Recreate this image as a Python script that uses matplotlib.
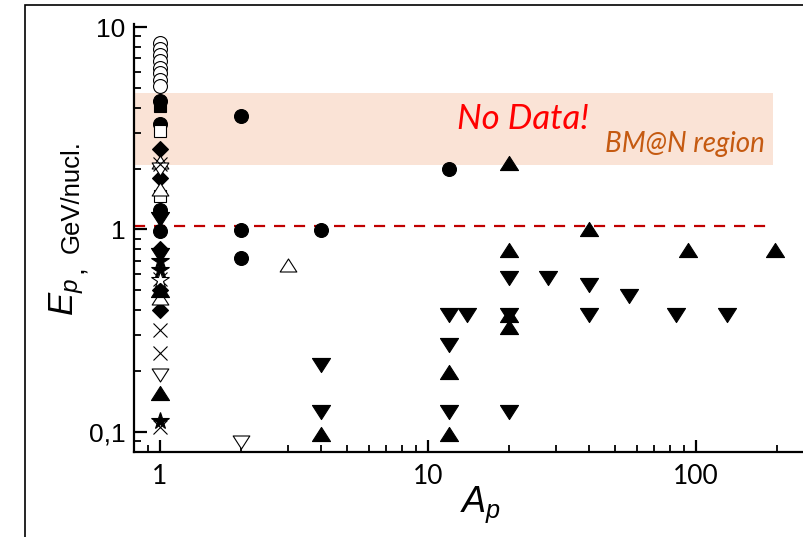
import matplotlib
matplotlib.use("Agg")
import matplotlib.pyplot as plt
import numpy as np
from matplotlib.patches import Rectangle
from matplotlib.path import Path
from matplotlib.ticker import FixedLocator, NullFormatter, LogLocator

plt.rcParams['mathtext.fontset'] = 'custom'
plt.rcParams['mathtext.it'] = 'Liberation Sans:italic'
plt.rcParams['mathtext.rm'] = 'Liberation Sans'

# data: projectile mass number A_p and energy E_p (GeV/nucl.)
open_circle_A = [1, 1, 1, 1, 1, 1, 1, 1]
open_circle_E = [8.3, 7.8, 7.3, 6.8, 6.3, 5.9, 5.5, 5.1]

filled_circle_A = [1, 1, 1, 1, 2, 2, 2, 4, 12]
filled_circle_E = [4.3, 3.3, 1.25, 0.98, 3.63, 0.99, 0.72, 0.99, 2.0]

filled_square_A = [1]
filled_square_E = [4.05]
open_square_A = [1, 1]
open_square_E = [3.05, 1.46]

filled_diamond_A = [1, 1, 1, 1, 1, 1]
filled_diamond_E = [2.5, 1.8, 1.2, 0.8, 0.5, 0.4]

open_up_A = [1, 1, 1, 3]
open_up_E = [2.15, 1.58, 0.46, 0.67]
open_down_A = [1, 1, 2]
open_down_E = [2.0, 0.19, 0.089]

cross_A = [1, 1, 1, 1, 1]
cross_E = [2.1, 0.57, 0.32, 0.245, 0.106]

filled_star_A = [1, 1, 1]
filled_star_E = [0.70, 0.63, 0.113]
open_star_A = [1]
open_star_E = [0.56]

up_A = [1, 1, 4, 12, 12, 20, 20, 20, 20, 40, 93, 197]
up_E = [0.155, 0.5, 0.098, 0.197, 0.098, 2.14, 0.79, 0.38, 0.33, 1.01, 0.79, 0.79]
down_A = [1, 1, 4, 4, 12, 12, 12, 14, 20, 20, 20, 28, 40, 40, 56, 84, 131]
down_E = [1.12, 0.75, 0.214, 0.126, 0.38, 0.27, 0.126, 0.38, 0.575, 0.38, 0.126,
          0.575, 0.53, 0.38, 0.47, 0.38, 0.38]

band_E = (2.09, 4.7)
band_A_max = 194
limit_E = 1.04

codes = [Path.MOVETO, Path.LINETO, Path.LINETO, Path.CLOSEPOLY]
up_tri = Path([(-1, -0.78), (1, -0.78), (0, 0.78), (0, 0)], codes)
down_tri = Path([(-1, 0.78), (1, 0.78), (0, -0.78), (0, 0)], codes)

fig = plt.figure(figsize=(8.04, 5.37), dpi=100)
ax = fig.add_axes([134 / 804, 1 - 452 / 537, 1 - 134 / 804, (452 - 24) / 537])

ax.set_xscale('log')
ax.set_yscale('log')
ax.set_xlim(10 ** (-26 / 268), 10 ** (644 / 268))
ax.set_ylim(10 ** (-1 - 20 / 201.5), 10 ** (1 + 3 / 201.5))

# BM@N region band and 1 GeV line
ax.fill_between([ax.get_xlim()[0], band_A_max], band_E[0], band_E[1],
                color='#FAE3D6', lw=0, zorder=0)
ax.plot([ax.get_xlim()[0], band_A_max], [limit_E, limit_E], color='#C00000',
        lw=1.6, dashes=(5, 4), zorder=1)

kw_open = dict(ls='none', mfc='white', mec='black', mew=0.8)
kw_fill = dict(ls='none', mfc='black', mec='black', mew=0.8)

ax.plot(open_circle_A, open_circle_E, marker='o', ms=10, **kw_open)
ax.plot(filled_circle_A, filled_circle_E, marker='o', ms=10, **kw_fill)
ax.plot(filled_square_A, filled_square_E, marker='s', ms=9, **kw_fill)
ax.plot(open_square_A, open_square_E, marker='s', ms=9, **kw_open)
ax.plot(filled_diamond_A, filled_diamond_E, marker='D', ms=8, **kw_fill)
ax.plot(open_up_A, open_up_E, marker=up_tri, ms=12, **kw_open)
ax.plot(open_down_A, open_down_E, marker=down_tri, ms=12, **kw_open)
ax.plot(cross_A, cross_E, marker='x', ms=10, ls='none', color='black', mew=0.8)
ax.plot(filled_star_A, filled_star_E, marker='*', ms=13, **kw_fill)
ax.plot(open_star_A, open_star_E, marker='*', ms=13, **kw_open)
ax.plot(up_A, up_E, marker=up_tri, ms=13, **kw_fill)
ax.plot(down_A, down_E, marker=down_tri, ms=13, **kw_fill)

ax.text(22.6, 3.5, 'No Data!', color='red', fontsize=25, style='italic',
        family='Lato', ha='center', va='center')
ax.text(180, 2.64, 'BM@N region', color='#C55A11', fontsize=20, style='italic',
        family='Lato', ha='right', va='center')

# axes styling
for s in ['top', 'right']:
    ax.spines[s].set_visible(False)
for s in ['left', 'bottom']:
    ax.spines[s].set_linewidth(1.6)

ax.yaxis.set_major_locator(FixedLocator([0.1, 1, 10]))
ax.set_yticklabels(['0,1', '1', '10'], family='Liberation Sans', fontsize=19)
ax.yaxis.set_minor_locator(LogLocator(base=10, subs=np.arange(2, 10)))
ax.yaxis.set_minor_formatter(NullFormatter())

ax.xaxis.set_major_locator(FixedLocator([1, 10, 100]))
ax.set_xticklabels(['1', '10', '100'], family='Lato', fontsize=19)
ax.xaxis.set_minor_locator(LogLocator(base=10, subs=np.arange(2, 10)))
ax.xaxis.set_minor_formatter(NullFormatter())

ax.tick_params(which='major', direction='in', length=9, width=1.6)
ax.tick_params(which='minor', direction='in', length=5, width=1.3)
ax.tick_params(axis='y', which='major', pad=6)
ax.tick_params(axis='x', which='major', pad=9)

fig.text(481 / 804, 1 - 505 / 537, r'$A_p$', fontsize=26, ha='center', va='center')
fig.text(67 / 804, 1 - 297 / 537, r'$E_p$', fontsize=25, rotation=90,
         ha='center', va='center')
fig.text(76 / 804, 1 - 269 / 537, ',', fontsize=20, rotation=90,
         family='Liberation Sans', ha='center', va='center')
fig.text(72 / 804, 1 - 197 / 537, 'GeV/nucl.', fontsize=18.5, rotation=90,
         family='Liberation Sans', ha='center', va='center')

# outer frame (right and bottom edges fall outside the picture)
fig.patches.append(Rectangle((25 / 804, -5 / 537), 800 / 804, 537 / 537,
                             transform=fig.transFigure, fill=False,
                             ec='black', lw=1.2))

fig.savefig('out.png', dpi=100)
